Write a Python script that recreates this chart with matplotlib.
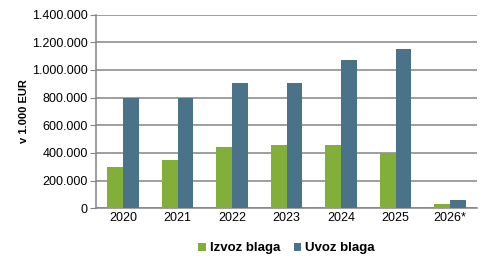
import numpy as np
from matplotlib import pyplot as plt
from matplotlib.ticker import FuncFormatter

plt.rcParams['font.family'] = ['Liberation Sans', 'DejaVu Sans']

# Data (in 1.000 EUR)
years = ['2020', '2021', '2022', '2023', '2024', '2025', '2026*']
izvoz = [298000, 348000, 442000, 456000, 456000, 398000, 30000]
uvoz = [795000, 795000, 908000, 908000, 1070000, 1150000, 63000]
yticks = np.arange(0, 1400001, 200000)

green = '#82ae3a'
blue = '#4a7289'
grid_col = '#848484'

fig = plt.figure(figsize=(4.92, 2.67), dpi=100)
ax = fig.add_axes([0.195, 0.22, 0.775, 0.725])

x = np.arange(len(years))
w = 0.29
ax.bar(x - w/2, izvoz, w, color=green, label='Izvoz blaga', zorder=3)
ax.bar(x + w/2, uvoz, w, color=blue, label='Uvoz blaga', zorder=3)

ax.set_xlim(-0.5, len(years) - 0.5)
ax.set_ylim(0, 1400000)
ax.set_yticks(yticks)
ax.yaxis.set_major_formatter(FuncFormatter(lambda v, p: f'{int(v):,}'.replace(',', '.')))
ax.set_xticks(x)
ax.set_xticklabels(years)

ax.grid(axis='y', color=grid_col, linewidth=1.1, zorder=0)
for s in ['top', 'right']:
    ax.spines[s].set_visible(False)
ax.spines['left'].set_color(grid_col)
ax.spines['bottom'].set_color(grid_col)
ax.spines['left'].set_linewidth(1.1)
ax.spines['bottom'].set_linewidth(1.1)
ax.tick_params(axis='y', length=4, color=grid_col, labelsize=9, pad=2)
ax.tick_params(axis='x', length=0, labelsize=9, pad=3)

ax.set_ylabel('v 1.000 EUR', fontsize=8, fontweight='bold', labelpad=2)

ax.legend(loc='upper center', bbox_to_anchor=(0.5, -0.115), ncol=2, frameon=False,
          prop={'size': 9.5, 'weight': 'bold'}, handlelength=0.6, handleheight=0.6,
          handletextpad=0.3, columnspacing=1.0)

plt.savefig('out.png', dpi=100)
